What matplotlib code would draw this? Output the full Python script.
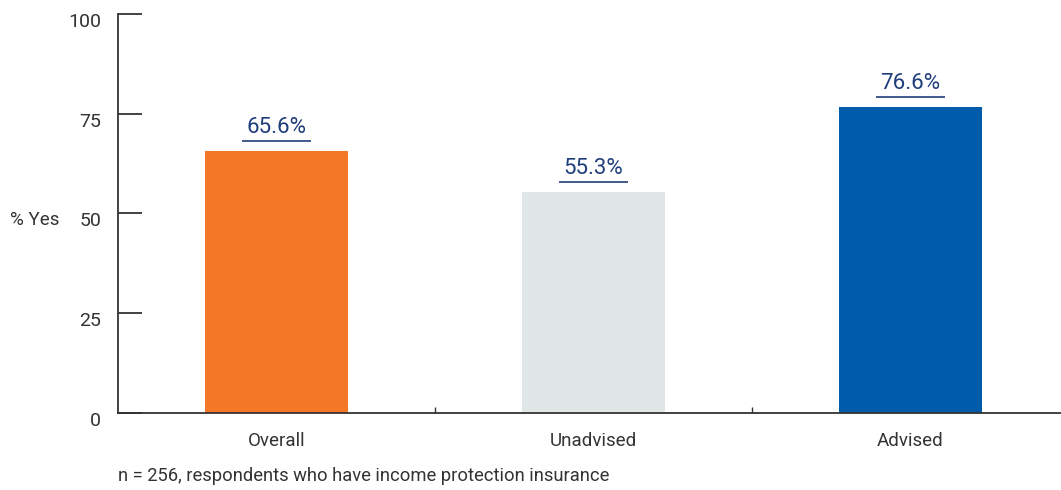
import matplotlib.pyplot as plt
import matplotlib.transforms as mtransforms


# =====================================================
# DATA
# =====================================================

categories = ["Overall", "Unadvised", "Advised"]
values = [65.6, 55.3, 76.6]
bar_colors = ["#F47726", "#E1E6E6", "#005BAA"]
y_ticks = [0, 25, 50, 75, 100]

note = "n = 256, respondents who have income protection insurance"

plt.rcParams["font.family"] = ["Roboto", "DejaVu Sans"]

text_color = "#333333"
label_color = "#1F3E7A"


# =====================================================
# CHART
# =====================================================

fig = plt.figure(
    figsize=(10.61, 4.90),
    dpi=100
)

ax = fig.add_axes([118 / 1061, 77 / 490, 943 / 1061, 399 / 490])

x = list(range(len(categories)))

ax.bar(
    x,
    values,
    width=0.45,
    color=bar_colors
)

for xi, v in zip(x, values):

    ax.plot(
        [xi - 0.11, xi + 0.11],
        [v + 2.5, v + 2.5],
        color=label_color,
        linewidth=1.2,
        solid_capstyle="butt"
    )

    ax.text(
        xi,
        v + 3.4,
        f"{v:.1f}%",
        ha="center",
        va="bottom",
        color=label_color,
        fontsize=16
    )

ax.set_xlim(-0.5, 2.5 - 8 / 317)
ax.set_ylim(0, 100)

ax.set_yticks(y_ticks)
ax.set_yticklabels([str(t) for t in y_ticks])
ax.tick_params(
    axis="y",
    direction="in",
    length=17,
    width=1.3,
    color=text_color,
    labelsize=14,
    labelcolor=text_color,
    pad=12
)

# labels sit a little below their ticks in the original
shift = mtransforms.ScaledTranslation(0, -6 / 100, fig.dpi_scale_trans)
for lbl in ax.get_yticklabels():
    lbl.set_transform(lbl.get_transform() + shift)

ax.set_xticks(x)
ax.set_xticklabels(categories)
ax.tick_params(
    axis="x",
    length=0,
    labelsize=13.5,
    labelcolor=text_color,
    pad=14
)

ax.set_xticks([0.5, 1.5], minor=True)
ax.tick_params(
    axis="x",
    which="minor",
    direction="in",
    length=4,
    width=1.0,
    color=text_color
)

for side in ["top", "right"]:
    ax.spines[side].set_visible(False)

for side in ["left", "bottom"]:
    ax.spines[side].set_color(text_color)
    ax.spines[side].set_linewidth(1.3)

fig.text(
    10 / 1061,
    1 - 220 / 490,
    "% Yes",
    ha="left",
    va="center",
    color=text_color,
    fontsize=13.5
)

fig.text(
    118 / 1061,
    1 - 476 / 490,
    note,
    ha="left",
    va="center",
    color=text_color,
    fontsize=13.2
)

plt.savefig(
    "out.png",
    dpi=100
)

plt.close()
